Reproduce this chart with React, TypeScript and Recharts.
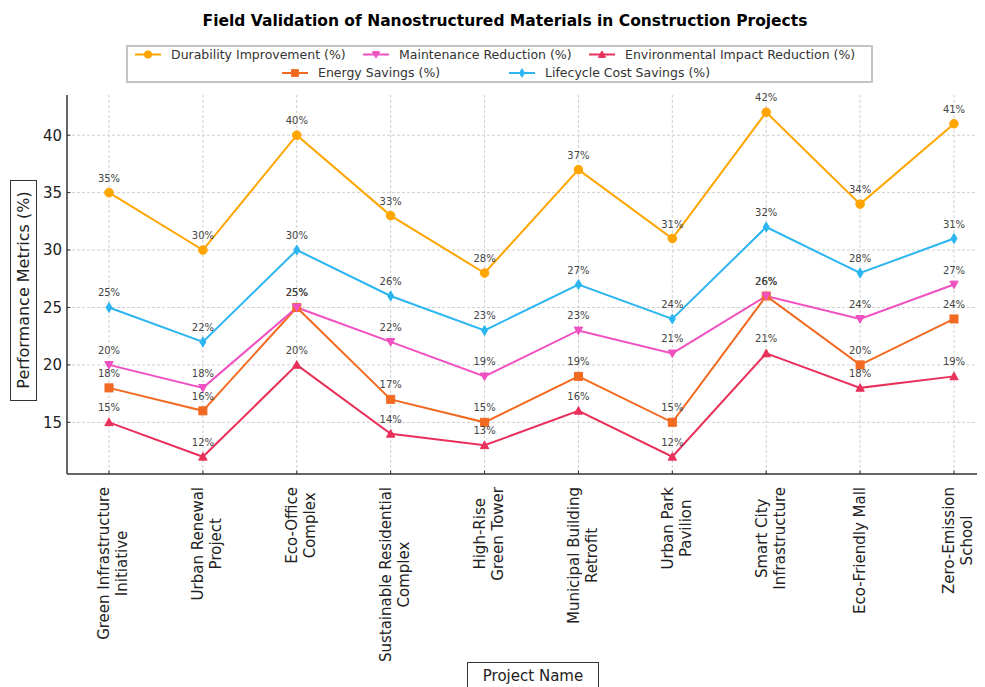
import React from 'react';
import { LineChart, Line, XAxis, YAxis, CartesianGrid, Legend, LabelList } from 'recharts';

// Projects (line breaks mark where tick labels wrap)
const projects = [
  'Green Infrastructure\nInitiative',
  'Urban Renewal\nProject',
  'Eco-Office\nComplex',
  'Sustainable Residential\nComplex',
  'High-Rise\nGreen Tower',
  'Municipal Building\nRetrofit',
  'Urban Park\nPavilion',
  'Smart City\nInfrastructure',
  'Eco-Friendly Mall',
  'Zero-Emission\nSchool',
];

// Metric values per project (%)
const durability = [35, 30, 40, 33, 28, 37, 31, 42, 34, 41];
const maintenance = [20, 18, 25, 22, 19, 23, 21, 26, 24, 27];
const environmental = [15, 12, 20, 14, 13, 16, 12, 21, 18, 19];
const energy = [18, 16, 25, 17, 15, 19, 15, 26, 20, 24];
const lifecycle = [25, 22, 30, 26, 23, 27, 24, 32, 28, 31];

const yTicks = [15, 20, 25, 30, 35, 40];

const rows = projects.map((project, i) => ({
  project,
  durability: durability[i],
  maintenance: maintenance[i],
  environmental: environmental[i],
  energy: energy[i],
  lifecycle: lifecycle[i],
}));

type Shape = 'circle' | 'square' | 'triangleDown' | 'triangleUp' | 'thinDiamond';

// Drawing order (later series sit on top)
const series: { key: string; name: string; color: string; shape: Shape }[] = [
  { key: 'durability', name: 'Durability Improvement (%)', color: '#FFA500', shape: 'circle' },
  { key: 'energy', name: 'Energy Savings (%)', color: '#F26A21', shape: 'square' },
  { key: 'maintenance', name: 'Maintenance Reduction (%)', color: '#F050C0', shape: 'triangleDown' },
  { key: 'lifecycle', name: 'Lifecycle Cost Savings (%)', color: '#2CB5F0', shape: 'thinDiamond' },
  { key: 'environmental', name: 'Environmental Impact Reduction (%)', color: '#E8305A', shape: 'triangleUp' },
];

// Legend entries: [series key, x offset of handle inside the box, row]
const legendItems: [string, number, number][] = [
  ['durability', 9, 0],
  ['maintenance', 237, 0],
  ['environmental', 463, 0],
  ['energy', 156, 1],
  ['lifecycle', 383, 1],
];

const FONT = '"DejaVu Sans", Verdana, sans-serif';
const CHART_W = 1000;
const CHART_H = 679;
const PLOT_LEFT = 59;
const PLOT_TOP = 87;
const PLOT_RIGHT = 988;
const PLOT_BOTTOM = 466;
const Y_AXIS_W = 50;
const TICK_LABEL_TOP = PLOT_BOTTOM + 13;

let measureCtx: CanvasRenderingContext2D | null = null;
function textWidth(s: string, font: string): number {
  if (typeof document === 'undefined') return s.length * 8.5;
  if (!measureCtx) measureCtx = document.createElement('canvas').getContext('2d');
  if (!measureCtx) return s.length * 8.5;
  measureCtx.font = font;
  return measureCtx.measureText(s).width;
}

function Marker({ shape, cx, cy, color, scale = 1 }: { shape: Shape; cx: number; cy: number; color: string; scale?: number }) {
  const k = scale;
  switch (shape) {
    case 'circle':
      return <circle cx={cx} cy={cy} r={4.3 * k} fill={color} stroke={color} />;
    case 'square':
      return <rect x={cx - 4 * k} y={cy - 4 * k} width={8 * k} height={8 * k} fill={color} stroke={color} />;
    case 'triangleDown': {
      const h = 4.2 * k;
      return <polygon points={`${cx - h},${cy - h * 0.8} ${cx + h},${cy - h * 0.8} ${cx},${cy + h}`} fill={color} stroke={color} />;
    }
    case 'triangleUp': {
      const h = 4.2 * k;
      return <polygon points={`${cx - h},${cy + h * 0.8} ${cx + h},${cy + h * 0.8} ${cx},${cy - h}`} fill={color} stroke={color} />;
    }
    case 'thinDiamond': {
      const h = 5 * k;
      const w = 3 * k;
      return <polygon points={`${cx},${cy - h} ${cx + w},${cy} ${cx},${cy + h} ${cx - w},${cy}`} fill={color} stroke={color} />;
    }
  }
  return null;
}

function makeDot(shape: Shape, color: string) {
  return (props: any) => {
    const { cx, cy, index } = props;
    if (cx == null || cy == null) return <g key={`d-${index}`} />;
    return (
      <g key={`d-${index}`}>
        <Marker shape={shape} cx={cx} cy={cy} color={color} />
      </g>
    );
  };
}

// Category labels: rotated, multi-line, hanging just below the axis, with a small inward tick
function XTick(props: any) {
  const { x, payload } = props;
  const lines = String(payload.value).split('\n');
  const n = lines.length;
  const longest = Math.max(...lines.map((l) => textWidth(l, `15px ${FONT}`)));
  const cy = TICK_LABEL_TOP + longest / 2;
  const shift = n > 1 ? 4 : 0;
  return (
    <g>
      <line x1={x} x2={x} y1={PLOT_BOTTOM} y2={PLOT_BOTTOM - 3.5} stroke="#333" strokeWidth={1} />
      <g transform={`translate(${x + shift},${cy}) rotate(-90)`}>
        <text textAnchor="middle" fontSize={15} fill="#222" fontFamily={FONT}>
          {lines.map((l, i) => (
            <tspan key={i} x={0} y={(i - (n - 1) / 2) * 18 + 5.3}>
              {l}
            </tspan>
          ))}
        </text>
      </g>
    </g>
  );
}

function YTick(props: any) {
  const { y, payload } = props;
  return (
    <g>
      <line x1={PLOT_LEFT} x2={PLOT_LEFT + 3.5} y1={y} y2={y} stroke="#333" strokeWidth={1} />
      <text x={PLOT_LEFT - 5} y={y + 5.4} textAnchor="end" fontSize={15} fill="#222" fontFamily={FONT}>
        {payload.value}
      </text>
    </g>
  );
}

function YTitle() {
  return (
    <g>
      <rect x={2.5} y={172.5} width={26} height={220} fill="#fff" stroke="#333" strokeWidth={1} />
      <text
        transform={`translate(15.5,282) rotate(-90)`}
        textAnchor="middle"
        y={5.6}
        fontSize={16}
        fill="#222"
        fontFamily={FONT}
      >
        Performance Metrics (%)
      </text>
    </g>
  );
}

function XTitle() {
  return (
    <g>
      <rect x={459.5} y={654.5} width={131} height={40} fill="#fff" stroke="#333" strokeWidth={1} />
      <text x={525} y={673} textAnchor="middle" fontSize={15} fill="#222" fontFamily={FONT}>
        Project Name
      </text>
    </g>
  );
}

function LegendBox() {
  const W = 747;
  const H = 38;
  return (
    <svg width={W} height={H} style={{ display: 'block', overflow: 'visible' }}>
      <rect x={1} y={1} width={W - 2} height={H - 2} fill="#fff" stroke="#c4c4c4" strokeWidth={2} />
      {legendItems.map(([key, left, row]) => {
        const s = series.find((d) => d.key === key)!;
        const cy = row === 0 ? 9.5 : 28;
        return (
          <g key={key}>
            <line x1={left} x2={left + 26} y1={cy} y2={cy} stroke={s.color} strokeWidth={2} />
            <Marker shape={s.shape} cx={left + 13} cy={cy} color={s.color} scale={0.85} />
            <text x={left + 36} y={cy + 4.4} fontSize={12.5} fill="#333" fontFamily={FONT}>
              {s.name}
            </text>
          </g>
        );
      })}
    </svg>
  );
}

export default function App() {
  return (
    <div
      style={{
        position: 'relative',
        width: 977,
        height: 679,
        overflow: 'hidden',
        background: '#fff',
        fontFamily: FONT,
      }}
    >
      <div
        style={{
          position: 'absolute',
          left: 0,
          top: 3,
          width: 994,
          textAlign: 'center',
          fontSize: 15.5,
          fontWeight: 'bold',
          lineHeight: '20px',
          color: '#000',
          zIndex: 2,
          whiteSpace: 'nowrap',
        }}
      >
        Field Validation of Nanostructured Materials in Construction Projects
      </div>
      <LineChart
        width={CHART_W}
        height={CHART_H}
        data={rows}
        margin={{ top: PLOT_TOP, right: CHART_W - PLOT_RIGHT, bottom: 0, left: PLOT_LEFT - Y_AXIS_W }}
      >
        {/* grid only at tick positions, not along the plot edges */}
        <CartesianGrid stroke="#cfcfcf" strokeDasharray="3 2" syncWithTicks />
        <XAxis
          dataKey="project"
          interval={0}
          padding={{ left: 42, right: 42 }}
          height={CHART_H - PLOT_BOTTOM}
          axisLine={{ stroke: '#333', strokeWidth: 1.5 }}
          tickLine={false}
          tick={<XTick />}
          label={<XTitle />}
        />
        <YAxis
          width={Y_AXIS_W}
          type="number"
          domain={[10.5, 43.5]}
          ticks={yTicks}
          allowDataOverflow
          axisLine={{ stroke: '#333', strokeWidth: 1.5 }}
          tickLine={false}
          tick={<YTick />}
          label={<YTitle />}
        />
        <Legend
          layout="vertical"
          align="center"
          verticalAlign="middle"
          content={() => <LegendBox />}
          wrapperStyle={{ left: 118, top: 37, width: 747, height: 38 }}
        />
        {series.map((s) => (
          <Line
            key={s.key}
            type="linear"
            dataKey={s.key}
            name={s.name}
            stroke={s.color}
            strokeWidth={2}
            dot={makeDot(s.shape, s.color)}
            activeDot={false}
            isAnimationActive={false}
          >
            <LabelList
              dataKey={s.key}
              position="top"
              offset={11}
              formatter={(v: any) => `${v}%`}
              fontSize={10}
              fill="#444"
              fontFamily={FONT}
            />
          </Line>
        ))}
      </LineChart>
    </div>
  );
}
